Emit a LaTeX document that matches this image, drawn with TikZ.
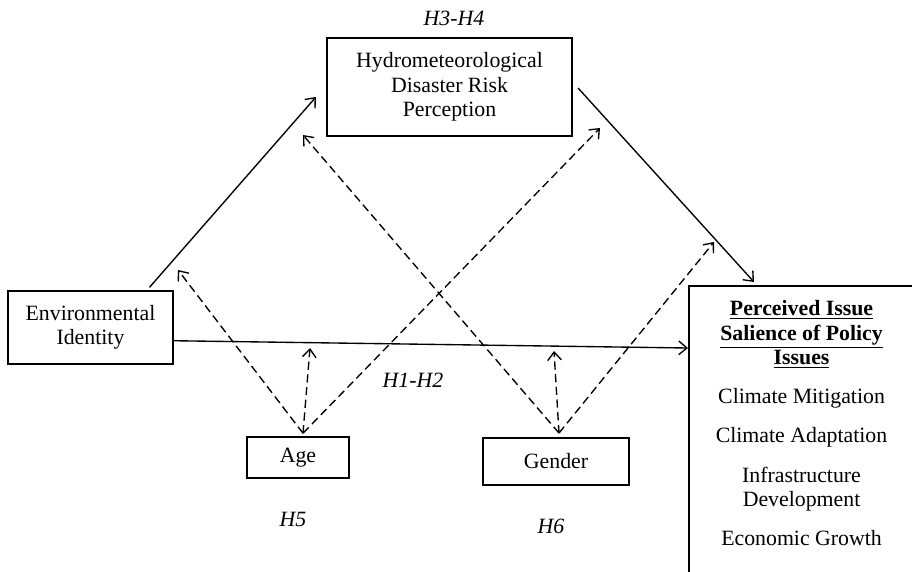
\documentclass[tikz,border=0pt]{standalone}
\usepackage{fontspec}
\setmainfont{Liberation Serif}
\usetikzlibrary{calc,positioning,arrows.meta}

\tikzset{
    varbox/.style={draw, rectangle, line width=0.9pt, align=center, inner sep=2pt},
    hyp/.style={font=\fontsize{12}{13.5}\selectfont\itshape},
    effect/.style={->, line width=0.75pt},
    moderate/.style={->, line width=0.75pt, dash pattern=on 4.5pt off 2.5pt}
}

\begin{document}
\begin{tikzpicture}[x=0.55pt, y=-0.55pt, font=\fontsize{12}{13.5}\selectfont,
        >={Straight Barb[length=4.5pt, width=7.5pt]}]
    \useasboundingbox (0,0) rectangle (912,571);
    \clip (0,0) rectangle (912,571);

    \node[varbox, minimum width=135pt, minimum height=54pt] (hdrp) at (449.5,87)
        {Hydrometeorological\\Disaster Risk\\Perception};
    \node[varbox, minimum width=91pt, minimum height=40pt] (ei) at (90.5,327.5)
        {Environmental\\Identity};
    \node[varbox, minimum width=56pt, minimum height=22.5pt] (age) at (298,457.5) {Age};
    \node[varbox, minimum width=80pt, minimum height=26pt] (gender) at (556,461.5) {Gender};
    \node[varbox, anchor=north west, minimum width=124pt, minimum height=170pt] (pispi) at (688,285) {};
    \node[below=5pt of pispi.north, align=center] (issues)
        {\textbf{\underline{Perceived Issue}}\\
         \textbf{\underline{Salience of Policy}}\\
         \textbf{\underline{Issues}}\\[8pt]
         Climate Mitigation\\[8pt]
         Climate Adaptation\\[8pt]
         Infrastructure\\
         Development\\[8pt]
         Economic Growth};

    \node[hyp] (h34) at (454,18) {H3-H4};
    \node[hyp] (h12) at (413,380) {H1-H2};
    \node[hyp] (h5) at (293,519) {H5};
    \node[hyp] (h6) at (551,526) {H6};

    \coordinate (agetop) at ($(age.north)+(5,-3)$);
    \coordinate (gentop) at ($(gender.north)+(3,-4)$);
    \coordinate (a1) at (178,270);
    \coordinate (a2) at (310,348);
    \coordinate (a3) at (600,128);
    \coordinate (g1) at (303,135);
    \coordinate (g2) at (554,351);
    \coordinate (g3) at (714,242);

    \draw[effect] ($(ei.north)+(59,-3)$) -- ($(hdrp.west)+(-10,10)$);
    \draw[effect] ($(hdrp.east)+(5,1)$) -- ($(pispi.north west)+(66,-3)$);
    \draw[effect] (ei.-9) -- ($(pispi.north west)+(0,63)$);

    \draw[moderate] (agetop) -- (a1);
    \draw[moderate] (agetop) -- (a2);
    \draw[moderate] (agetop) -- (a3);
    \draw[moderate] (gentop) -- (g1);
    \draw[moderate] (gentop) -- (g2);
    \draw[moderate] (gentop) -- (g3);

\end{tikzpicture}
\end{document}
